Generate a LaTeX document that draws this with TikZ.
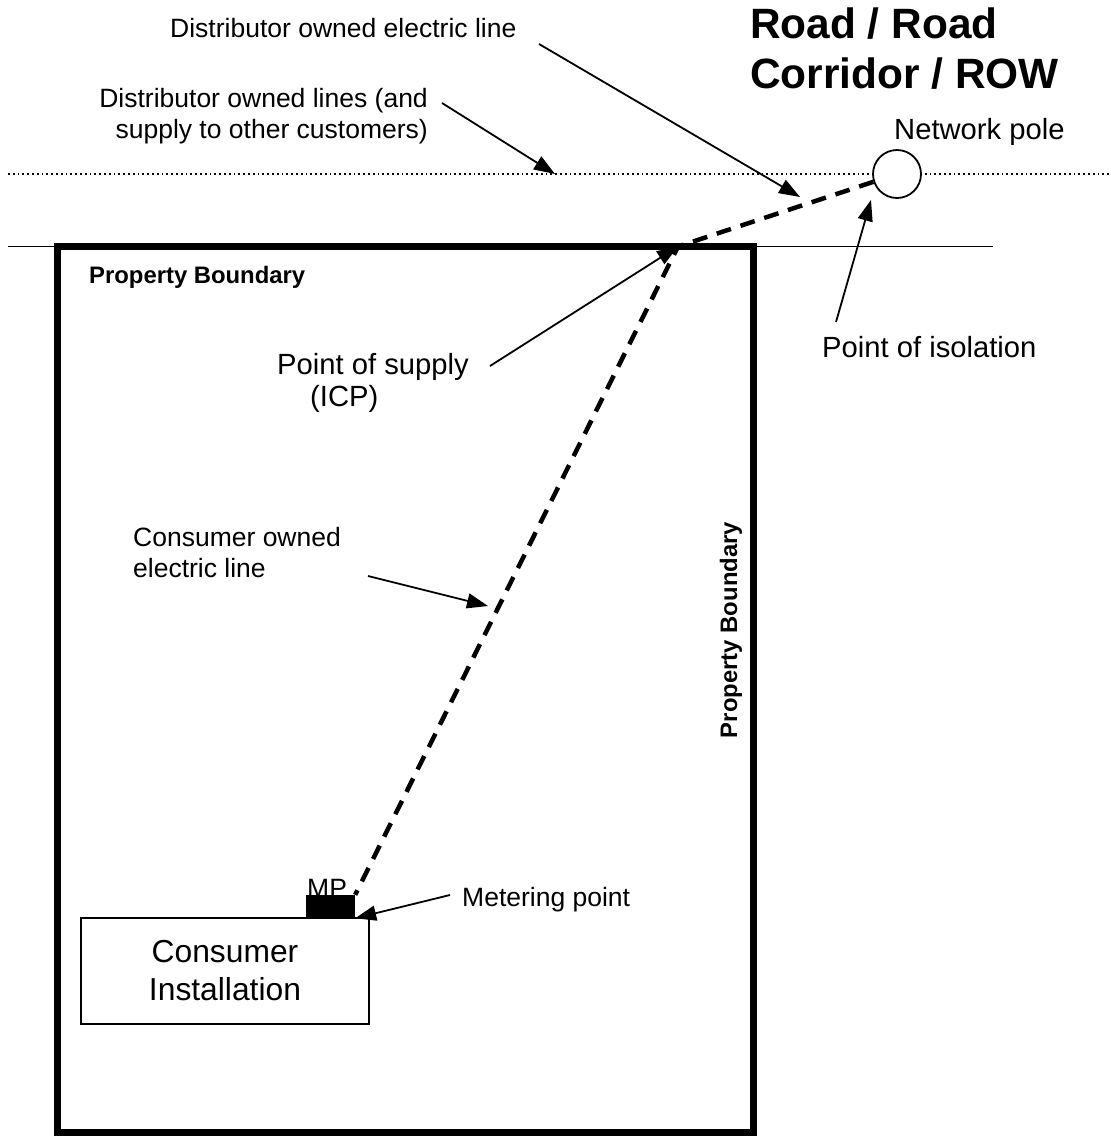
\documentclass[tikz,border=0pt]{standalone}
\usepackage{fontspec}
\setmainfont{Liberation Sans}
\usetikzlibrary{arrows.meta}
\newcommand{\fsmall}{\fontsize{26.5}{30}\selectfont}
\newcommand{\fmed}{\fontsize{29.2}{33}\selectfont}
\newcommand{\fbig}{\fontsize{31.8}{37}\selectfont}
\newcommand{\fbnd}{\fontsize{23.85}{27}\selectfont\bfseries}
\newcommand{\ftitle}{\fontsize{42.4}{50}\selectfont\bfseries}
\begin{document}
\begin{tikzpicture}[x=1pt,y=-1pt,
  txt/.style={inner sep=0pt,anchor=base west},
  pointer/.style={line width=1.8pt,-{Triangle[length=21pt,width=15pt]}},
  boundary/.style={line width=7pt},
  feeder/.style={line width=4.5pt,dash pattern=on 15pt off 10pt},
  road/.style={line width=1.8pt,dash pattern=on 1.8pt off 3pt},
  thinline/.style={line width=1.6pt}]
\useasboundingbox (0,0) rectangle (1111,1136);
% road lines
\draw[road] (8,174) -- (1111,174);
\draw[thinline] (8,246.5) -- (993,246.5);
% property boundary
\draw[boundary] (57,246.5) -- (753,246.5) -- (753,1132) -- (57,1132) -- cycle;
% network pole
\node[draw,circle,line width=1.8pt,minimum size=48pt,inner sep=0pt,fill=white] (pole) at (897,174) {};
% consumer installation
\node[draw,line width=1.8pt,minimum width=288pt,minimum height=106pt,inner sep=0pt,align=center,font=\fbig] (ci) at (225,971) {Consumer\\[1pt]Installation};
\node[fill=black,minimum width=49pt,minimum height=23pt,inner sep=0pt] (mp) at (330.5,906.5) {};
\node[txt,font=\fsmall] (mplabel) at (307,897) {MP};
\fill (mp.south west) rectangle (mp.north east);
% points
\coordinate (icp) at (678,246.5);
\draw[feeder] (pole) -- (icp) -- (mp.north east);
% texts
\node[txt,font=\ftitle] (t1) at (750,38) {Road / Road};
\node[txt,font=\ftitle] (t2) at (750,88) {Corridor / ROW};
\node[txt,font=\fmed] (np) at (894,139) {Network pole};
\node[txt,font=\fsmall] (del) at (170,37) {Distributor owned electric line};
\node[txt,font=\fsmall,anchor=base east] (dl1) at (428,107) {Distributor owned lines (and};
\node[txt,font=\fsmall,anchor=base east] (dl2) at (428,138) {supply to other customers)};
\node[txt,font=\fmed] (poi) at (822,357) {Point of isolation};
\node[txt,font=\fmed] (pos1) at (277,374) {Point of supply};
\node[txt,font=\fmed] (pos2) at (310,406) {(ICP)};
\node[txt,font=\fsmall] (col1) at (133,546) {Consumer owned};
\node[txt,font=\fsmall] (col2) at (133,577) {electric line};
\node[txt,font=\fsmall] (metp) at (462,906) {Metering point};
\node[txt,font=\fbnd] (pb1) at (89,283) {Property Boundary};
\node[inner sep=0pt,font=\fbnd,rotate=90] (pb2) at (731,630) {Property Boundary};
% arrow anchors
\coordinate (a1s) at (539,44);   \coordinate (a1e) at (800,197);
\coordinate (a2s) at (442,103);  \coordinate (a2e) at (555,174);
\coordinate (a3s) at (836,322);  \coordinate (a3e) at (871,200);
\coordinate (a4s) at (490,366);
\coordinate (a5s) at (368,576);  \coordinate (a5e) at (488,606);
\coordinate (a6s) at (450,895);
\draw[pointer] (a1s) -- (a1e);
\draw[pointer] (a2s) -- (a2e);
\draw[pointer] (a3s) -- (a3e);
\draw[pointer] (a4s) -- (icp);
\draw[pointer] (a5s) -- (a5e);
\draw[pointer] (a6s) -- (mp.south east);
\end{tikzpicture}
\end{document}
